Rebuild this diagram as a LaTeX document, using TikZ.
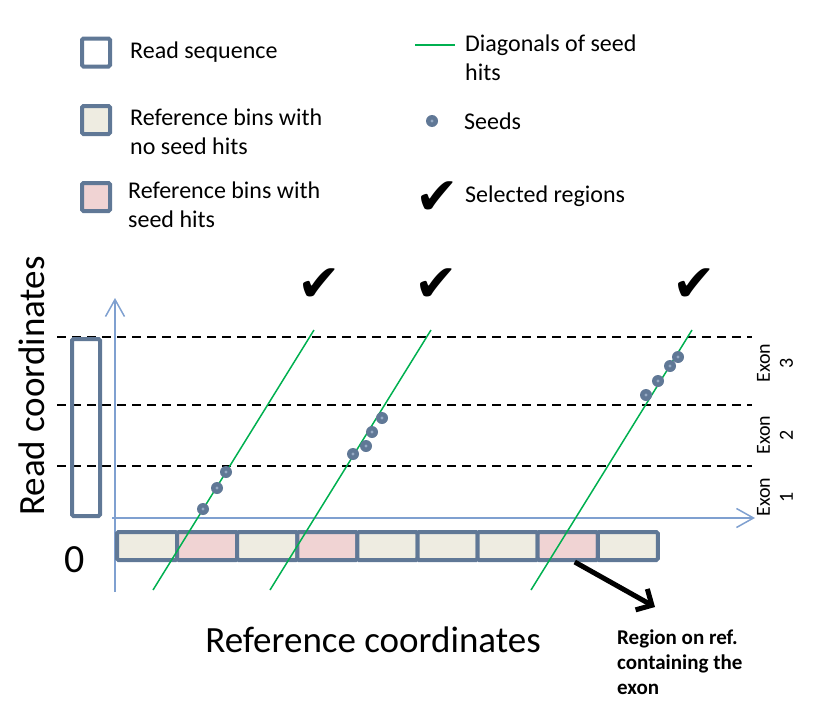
\documentclass[tikz,border=0pt]{standalone}
\usepackage{fontspec}
\setmainfont{Carlito}
\newfontfamily\symfont{DejaVu Sans}
\usetikzlibrary{arrows.meta,positioning}
\definecolor{binedge}{RGB}{96,120,150}
\definecolor{nohit}{RGB}{238,236,225}
\definecolor{hit}{RGB}{240,211,211}
\definecolor{axisblue}{RGB}{127,160,208}
\definecolor{diag}{RGB}{0,176,80}
\definecolor{seedcore}{RGB}{150,170,196}
\tikzset{
  box/.style={draw=binedge,line width=4pt,rounded corners=1.5pt,inner sep=0pt,
    minimum width=28pt,minimum height=28pt},
  readbox/.style={box,fill=white},
  nohitbox/.style={box,fill=nohit},
  hitbox/.style={box,fill=hit},
  legend/.style={anchor=west,align=left,inner sep=0pt,font=\fontsize{24}{29}\selectfont},
  seed/.style={circle,fill=binedge,inner sep=0pt,minimum size=12pt,
    path picture={\fill[seedcore] (path picture bounding box.center) circle (1.6pt);}},
  tick/.style={inner sep=0pt,font=\symfont\fontsize{52}{52}\selectfont},
  axis/.style={draw=axisblue,line width=1.5pt,-{Straight Barb[length=17pt,width=19pt]}},
  diagonal/.style={draw=diag,line width=1.5pt},
  exonline/.style={draw=black,line width=1.6pt,dash pattern=on 9pt off 6pt},
  exon/.style={rotate=90,align=center,inner sep=0pt,font=\fontsize{20}{23}\selectfont},
  bigtext/.style={inner sep=0pt,font=\fontsize{37}{42}\selectfont}
}
\begin{document}
\begin{tikzpicture}[x=1pt,y=-1pt]
\useasboundingbox (0,0) rectangle (825,720);
\node[readbox] (lread) at (96,52.5) {};
\node[nohitbox] (lnohit) at (96,120) {};
\node[hitbox] (lhit) at (96,197) {};
\node[legend] (tread) at (130,52) {Read sequence};
\node[legend] (tnohit) at (130,131.5) {Reference bins with\\no seed hits};
\node[legend] (thit) at (128,204.5) {Reference bins with\\seed hits};
\draw[diagonal] (415,45) -- (455,45);
\node[legend] (tdiag) at (465,58) {Diagonals of seed\\hits};
\node[seed] (lseed) at (432,121) {};
\node[legend] (tseed) at (464,121) {Seeds};
\node[tick] (ltick) at (437,198) {✔};
\node[legend] (ttick) at (465,196) {Selected regions};

\foreach \y in {337,405,466} \draw[exonline] (57,\y) -- (752,\y);
\draw[axis] (115,592) -- (115,298);
\draw[axis] (112,518) -- (755,518);
\node[box,minimum height=177pt] (read) at (86,427.5) {};
\foreach \i/\s in {1/nohitbox,2/hitbox,3/nohitbox,4/hitbox,5/nohitbox,6/nohitbox,7/nohitbox,8/hitbox,9/nohitbox}
  \node[\s,minimum width=60.1pt] (bin\i) at ({117+60.1*(\i-0.5)},546) {};

\draw[diagonal] (153,590) -- (314,330);
\draw[diagonal] (270,590) -- (431,330);
\draw[diagonal] (531,590) -- (692,330);
\foreach \p in {(203,509),(217,488),(226,472),(353,454),(366,446),(372,432),(382,418),
  (646,395),(658,381),(670,366),(678,357)}
  \node[seed] at \p {};
\foreach \x in {319,436,694} \node[tick] at (\x,285.5) {✔};

\node[exon] (exon3) at (775,363) {Exon\\3};
\node[exon] (exon2) at (775,435) {Exon\\2};
\node[exon] (exon1) at (775,497) {Exon\\1};

\node[bigtext,font=\fontsize{40}{42}\selectfont] (zero) at (75,560) {0};
\node[bigtext,rotate=90] (ylab) at (32,386) {Read coordinates};
\node[bigtext] (xlab) at (373,640) {Reference coordinates};

\coordinate (regtip) at (655,607);
\node[anchor=north west,align=left,inner sep=0pt,font=\bfseries\fontsize{21}{25}\selectfont]
  (region) at (617,630) {Region on ref.\\containing the\\exon};
\draw[line width=5pt,-{Straight Barb[length=12pt,width=24pt]}] ([xshift=7pt]bin8.south) -- (regtip);
\end{tikzpicture}
\end{document}
